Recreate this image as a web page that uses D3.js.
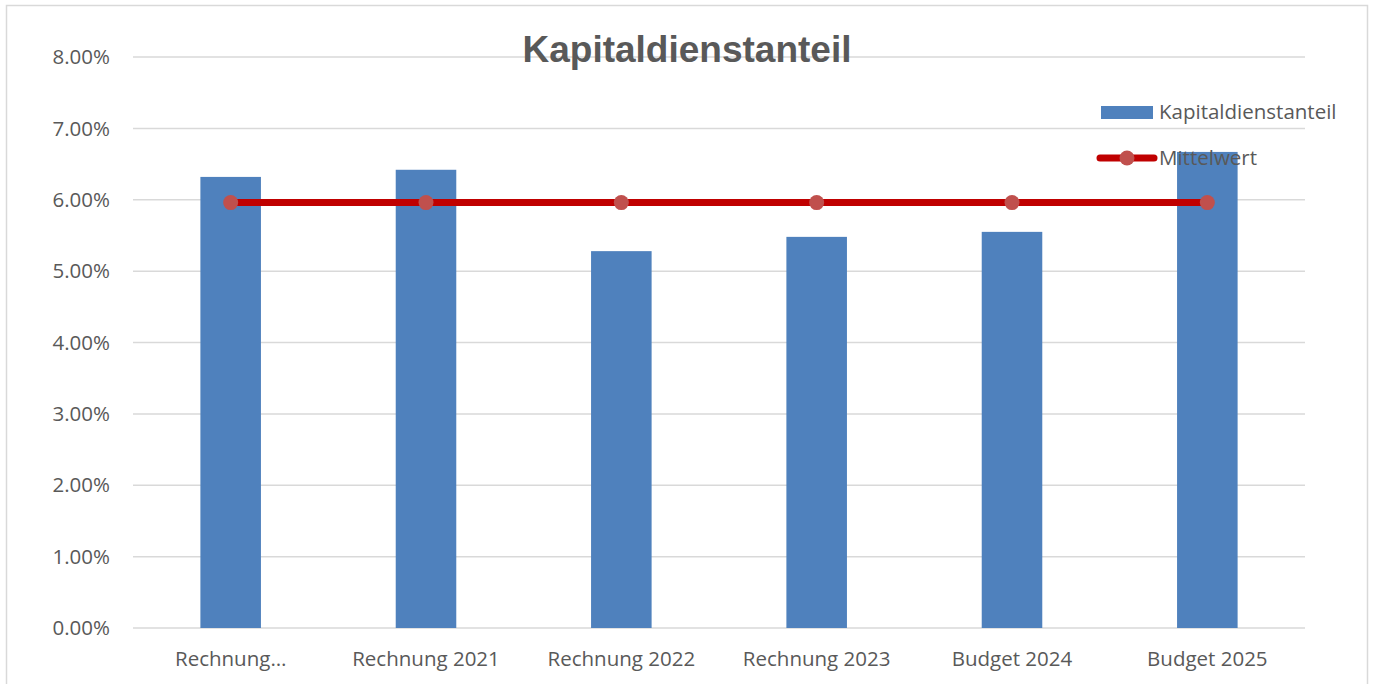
<!DOCTYPE html>
<html>
<head>
<meta charset="utf-8">
<script src="https://cdn.jsdelivr.net/npm/d3@7"></script>
<style>
  body { margin: 0; background: #fff; }
  svg { display: block; font-family: "Open Sans", "Noto Sans", sans-serif; }
</style>
</head>
<body>
<div id="chart"></div>
<script>
const categories = ["Rechnung…", "Rechnung 2021", "Rechnung 2022", "Rechnung 2023", "Budget 2024", "Budget 2025"];
const kapitaldienstanteil = [6.32, 6.42, 5.28, 5.48, 5.55, 6.67];
const mittelwert = [5.96, 5.96, 5.96, 5.96, 5.96, 5.96];
const yTicks = [0, 1, 2, 3, 4, 5, 6, 7, 8];

const width = 1373;
const height = 684;
const margin = { top: 57, right: 68, bottom: 56, left: 133 };
const fontSize = "20.5px";

const svg = d3.select("#chart")
  .append("svg")
  .attr("width", width)
  .attr("height", height);

// chart border
svg.append("rect")
  .attr("x", 6.5)
  .attr("y", 5.5)
  .attr("width", 1361)
  .attr("height", 700)
  .attr("fill", "none")
  .attr("stroke", "#d9d9d9")
  .attr("stroke-width", 1.5);

const x = d3.scaleBand()
  .domain(categories)
  .range([margin.left, width - margin.right])
  .paddingInner(0.69)
  .paddingOuter(0.345);

const xc = d3.scaleBand()
  .domain(categories)
  .range([margin.left, width - margin.right]);

const y = d3.scaleLinear()
  .domain([0, 8])
  .range([height - margin.bottom, margin.top]);

// gridlines
svg.append("g")
  .selectAll("line")
  .data(yTicks)
  .enter()
  .append("line")
  .attr("x1", margin.left)
  .attr("x2", width - margin.right)
  .attr("y1", d => y(d))
  .attr("y2", d => y(d))
  .attr("stroke", "#d9d9d9")
  .attr("stroke-width", 1.5);

// y labels
svg.append("g")
  .selectAll("text")
  .data(yTicks)
  .enter()
  .append("text")
  .attr("x", 110)
  .attr("y", d => y(d))
  .attr("dy", "0.35em")
  .attr("text-anchor", "end")
  .attr("fill", "#595959")
  .style("font-size", fontSize)
  .text(d => d.toFixed(2) + "%");

// bars
svg.append("g")
  .selectAll("rect")
  .data(kapitaldienstanteil)
  .enter()
  .append("rect")
  .attr("x", (d, i) => x(categories[i]))
  .attr("y", d => y(d))
  .attr("width", x.bandwidth())
  .attr("height", d => y(0) - y(d))
  .attr("fill", "#4f81bd");

// x labels
svg.append("g")
  .selectAll("text")
  .data(categories)
  .enter()
  .append("text")
  .attr("x", d => xc(d) + xc.bandwidth() / 2)
  .attr("y", 659)
  .attr("dy", "0.35em")
  .attr("text-anchor", "middle")
  .attr("fill", "#595959")
  .style("font-size", fontSize)
  .text(d => d);

// mean line
const line = d3.line()
  .x((d, i) => xc(categories[i]) + xc.bandwidth() / 2)
  .y(d => y(d));

svg.append("path")
  .datum(mittelwert)
  .attr("d", line)
  .attr("fill", "none")
  .attr("stroke", "#c00000")
  .attr("stroke-width", 7);

svg.append("g")
  .selectAll("circle")
  .data(mittelwert)
  .enter()
  .append("circle")
  .attr("cx", (d, i) => xc(categories[i]) + xc.bandwidth() / 2)
  .attr("cy", d => y(d))
  .attr("r", 7.5)
  .attr("fill", "#c0504d");

// title
svg.append("text")
  .attr("x", 687)
  .attr("y", 62)
  .attr("text-anchor", "middle")
  .attr("fill", "#595959")
  .style("font-family", "'Liberation Sans', Arial, sans-serif")
  .style("font-weight", "bold")
  .style("font-size", "37px")
  .text("Kapitaldienstanteil");

// legend
const legend = svg.append("g");
legend.append("rect")
  .attr("x", 1101)
  .attr("y", 106)
  .attr("width", 52)
  .attr("height", 13)
  .attr("fill", "#4f81bd");
legend.append("text")
  .attr("x", 1159)
  .attr("y", 112)
  .attr("dy", "0.35em")
  .attr("fill", "#595959")
  .style("font-size", fontSize)
  .text("Kapitaldienstanteil");
legend.append("line")
  .attr("x1", 1100)
  .attr("x2", 1154)
  .attr("y1", 158)
  .attr("y2", 158)
  .attr("stroke", "#c00000")
  .attr("stroke-width", 7)
  .attr("stroke-linecap", "round");
legend.append("circle")
  .attr("cx", 1127)
  .attr("cy", 158)
  .attr("r", 7.5)
  .attr("fill", "#c0504d");
legend.append("text")
  .attr("x", 1159)
  .attr("y", 158)
  .attr("dy", "0.35em")
  .attr("fill", "#595959")
  .style("font-size", fontSize)
  .text("Mittelwert");
</script>
</body>
</html>
